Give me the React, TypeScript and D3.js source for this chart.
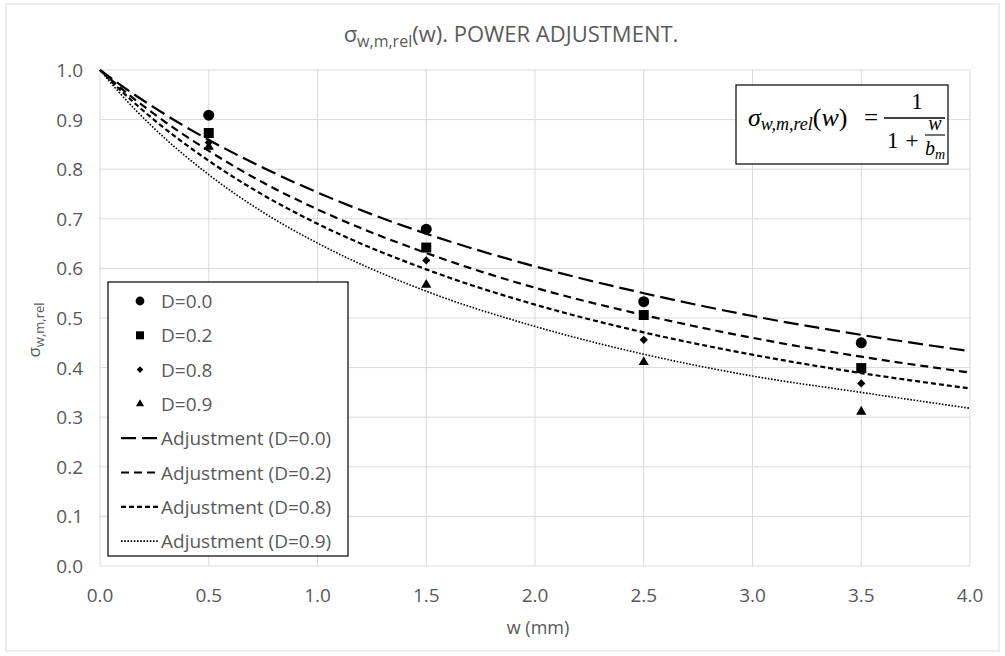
import React from "react";
import * as d3 from "d3";

const width = 1005;
const height = 656;
const margin = { left: 100, right: 35, top: 70, bottom: 90 };

// measured points
const wPoints = [0.5, 1.5, 2.5, 3.5];
const sD00 = [0.909, 0.679, 0.533, 0.45];
const sD02 = [0.873, 0.642, 0.506, 0.399];
const sD08 = [0.854, 0.616, 0.456, 0.368];
const sD09 = [0.845, 0.567, 0.411, 0.311];

// adjustment curves
const wFit = [0, 0.1, 0.25, 0.5, 0.75, 1, 1.5, 2, 2.5, 3, 3.5, 4];
const fitD00 = [1, 0.968, 0.924, 0.859, 0.803, 0.753, 0.67, 0.604, 0.55, 0.504, 0.466, 0.433];
const fitD02 = [1, 0.962, 0.911, 0.837, 0.773, 0.719, 0.631, 0.561, 0.506, 0.46, 0.422, 0.39];
const fitD08 = [1, 0.957, 0.899, 0.817, 0.748, 0.69, 0.598, 0.527, 0.471, 0.426, 0.389, 0.358];
const fitD09 = [1, 0.949, 0.882, 0.789, 0.713, 0.651, 0.554, 0.483, 0.427, 0.383, 0.35, 0.318];

const pointLabels = ["D=0.0", "D=0.2", "D=0.8", "D=0.9"];
const fitLabels = ["Adjustment (D=0.0)", "Adjustment (D=0.2)", "Adjustment (D=0.8)", "Adjustment (D=0.9)"];

const xTicks = [0, 0.5, 1, 1.5, 2, 2.5, 3, 3.5, 4];
const yTicks = [0, 0.1, 0.2, 0.3, 0.4, 0.5, 0.6, 0.7, 0.8, 0.9, 1.0];

const textColor = "#595959";
const gridColor = "#d9d9d9";
const font = "'Open Sans', sans-serif";
const mathFont = "'Liberation Serif', serif";

export default function App() {
  const xScale = d3.scaleLinear().domain([0, 4]).range([margin.left, width - margin.right]);
  const yScale = d3.scaleLinear().domain([0, 1]).range([height - margin.bottom, margin.top]);

  const pointSeries = [sD00, sD02, sD08, sD09];
  const symbols = [
    d3.symbol(d3.symbolCircle, 95),
    d3.symbol(d3.symbolSquare, 100),
    d3.symbol(d3.symbolSquare, 34),
    d3.symbol(d3.symbolTriangle, 45),
  ];
  const rot = [0, 0, 45, 0];

  const fitSeries = [fitD00, fitD02, fitD08, fitD09];
  const dashes = ["15,6", "8,5", "5,3", "1.6,1.6"];
  const widths = [2.2, 2.2, 2.2, 1.6];

  const line = d3
    .line<[number, number]>()
    .x((d) => xScale(d[0]))
    .y((d) => yScale(d[1]))
    .curve(d3.curveMonotoneX);

  const legX = 108;
  const legY = 282;
  const legW = 240;
  const legH = 274;
  const rowH = 34.3;

  return (
    <svg width={width} height={height} style={{ position: "absolute", left: 0, top: 0, background: "#fff" }}>
      <rect x={6} y={4} width={993} height={647} fill="#fff" stroke="#d9d9d9" strokeWidth={1} />

      {/* title */}
      <text x={511} y={42} textAnchor="middle" fontFamily={font} fontSize={22} fill={textColor}>
        σ<tspan fontSize={16} dy={5}>w,m,rel</tspan>
        <tspan dy={-5}>(w). POWER ADJUSTMENT.</tspan>
      </text>

      {/* grid */}
      {xTicks.map((t) => (
        <line key={"gx" + t} x1={xScale(t)} x2={xScale(t)} y1={yScale(0)} y2={yScale(1)} stroke={gridColor} />
      ))}
      {yTicks.map((t) => (
        <line key={"gy" + t} x1={xScale(0)} x2={xScale(4)} y1={yScale(t)} y2={yScale(t)} stroke={gridColor} />
      ))}

      {/* ticks */}
      {yTicks.map((t) => (
        <text key={"ty" + t} x={83} y={yScale(t) + 7} textAnchor="end" fontFamily={font} fontSize={19} fill={textColor}>
          {t.toFixed(1)}
        </text>
      ))}
      {xTicks.map((t) => (
        <text
          key={"tx" + t}
          x={xScale(t)}
          y={yScale(0) + 36}
          textAnchor="middle"
          fontFamily={font}
          fontSize={19}
          fill={textColor}
        >
          {t.toFixed(1)}
        </text>
      ))}

      {/* axis titles */}
      <text x={538} y={634} textAnchor="middle" fontFamily={font} fontSize={18} fill={textColor}>
        w (mm)
      </text>
      <text transform={`translate(40,330) rotate(-90)`} textAnchor="middle" fontFamily={font} fontSize={17} fill={textColor}>
        σ<tspan fontSize={13} dy={4}>w,m,rel</tspan>
      </text>

      {/* fit lines */}
      {fitSeries.map((vals, i) => (
        <path
          key={"f" + i}
          d={line(wFit.map((w, j) => [w, vals[j]] as [number, number])) || ""}
          fill="none"
          stroke="#000"
          strokeWidth={widths[i]}
          strokeDasharray={dashes[i]}
        />
      ))}

      {/* points */}
      {pointSeries.map((vals, i) =>
        vals.map((v, j) => (
          <path
            key={"p" + i + "-" + j}
            d={symbols[i]() || ""}
            transform={`translate(${xScale(wPoints[j])},${yScale(v)}) rotate(${rot[i]})`}
            fill="#000"
          />
        ))
      )}

      {/* legend */}
      <rect x={legX} y={legY} width={legW} height={legH} fill="#fff" stroke="#000" strokeWidth={1.2} />
      {pointLabels.map((lab, i) => {
        const cy = legY + 19 + i * rowH;
        return (
          <g key={"lp" + i}>
            <path d={symbols[i]() || ""} transform={`translate(${legX + 32},${cy}) rotate(${rot[i]}) scale(0.8)`} fill="#000" />
            <text x={legX + 53} y={cy + 7} fontFamily={font} fontSize={19} fill={textColor}>
              {lab}
            </text>
          </g>
        );
      })}
      {fitLabels.map((lab, i) => {
        const cy = legY + 19 + (i + 4) * rowH;
        return (
          <g key={"lf" + i}>
            <line
              x1={legX + 13}
              x2={legX + 51}
              y1={cy}
              y2={cy}
              stroke="#000"
              strokeWidth={widths[i]}
              strokeDasharray={dashes[i]}
            />
            <text x={legX + 53} y={cy + 7} fontFamily={font} fontSize={19} fill={textColor}>
              {lab}
            </text>
          </g>
        );
      })}

      {/* formula box */}
      <rect x={736} y={85} width={212} height={79} fill="#fff" stroke="#000" strokeWidth={1.2} />
      <g fontFamily={mathFont} fill="#000" fontStyle="italic">
        <text x={748} y={126} fontSize={26}>
          σ<tspan fontSize={18} dy={4}>w,m,rel</tspan>
          <tspan dy={-4} fontStyle="normal">(</tspan>w<tspan fontStyle="normal">)</tspan>
        </text>
        <text x={871} y={126} fontSize={25} fontStyle="normal" textAnchor="middle">=</text>
        <text x={917} y={109} fontSize={23} fontStyle="normal" textAnchor="middle">1</text>
        <line x1={884} x2={945} y1={118} y2={118} stroke="#000" strokeWidth={1.3} />
        <text x={887} y={148} fontSize={23} fontStyle="normal">1</text>
        <text x={912} y={148} fontSize={23} fontStyle="normal" textAnchor="middle">+</text>
        <text x={935} y={130} fontSize={20} textAnchor="middle">w</text>
        <line x1={925} x2={945} y1={135} y2={135} stroke="#000" strokeWidth={1.1} />
        <text x={925} y={155} fontSize={20}>
          b<tspan fontSize={14} dy={4}>m</tspan>
        </text>
      </g>
    </svg>
  );
}
